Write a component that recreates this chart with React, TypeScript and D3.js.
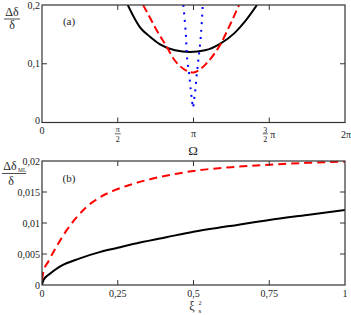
import * as d3 from 'd3'

// panel (a): Δδ/δ vs Ω (Ω stored in units of π)
const omegaSolid = [0.566, 0.647, 0.713, 0.779, 0.878, 0.977, 1.076, 1.175, 1.274, 1.34, 1.419]
const deltaSolid = [0.2, 0.162, 0.146, 0.133, 0.123, 0.12, 0.123, 0.134, 0.153, 0.172, 0.2]
const omegaDashed = [0.667, 0.691, 0.757, 0.823, 0.867, 0.911, 0.955, 1.0, 1.036, 1.08, 1.12, 1.182, 1.226, 1.285, 1.3]
const deltaDashed = [0.2, 0.189, 0.157, 0.129, 0.109, 0.096, 0.088, 0.085, 0.089, 0.099, 0.111, 0.135, 0.158, 0.191, 0.2]
const omegaDotted = [0.933, 0.949, 0.959, 0.972, 0.982, 0.99, 0.997, 1.003, 1.012, 1.021, 1.032, 1.05, 1.061]
const deltaDotted = [0.2, 0.152, 0.106, 0.081, 0.055, 0.038, 0.025, 0.038, 0.055, 0.081, 0.106, 0.152, 0.2]
const yTicksA = [0, 0.1, 0.2]
const yLabelsA = ['0', '0,1', '0,2']

// panel (b): Δδ_ML/δ vs ξ_s²
const xiSolid = [0, 0.005, 0.026, 0.06, 0.125, 0.19, 0.25, 0.3, 0.41, 0.5, 0.62, 0.75, 0.875, 1]
const mlSolid = [0, 0.0008, 0.0018, 0.003, 0.0043, 0.0053, 0.006, 0.0066, 0.0077, 0.0086, 0.0095, 0.0105, 0.0113, 0.0121]
const xiDashed = [0, 0.005, 0.021, 0.048, 0.081, 0.114, 0.147, 0.19, 0.24, 0.3, 0.36, 0.44, 0.5, 0.625, 0.75, 0.875, 1]
const mlDashed = [0.0008, 0.0022, 0.0038, 0.0062, 0.0088, 0.0109, 0.0126, 0.0141, 0.0153, 0.0163, 0.0171, 0.0179, 0.0184, 0.019, 0.0194, 0.0197, 0.0199]
const xTicksB = [0, 0.25, 0.5, 0.75, 1]
const xLabelsB = ['0', '0,25', '0,5', '0,75', '1']
const yTicksB = [0, 0.005, 0.01, 0.015, 0.02]
const yLabelsB = ['0', '0,005', '0,01', '0,015', '0,02']

const FONT = '"Liberation Serif", "DejaVu Serif", serif'
const AXIS = '#333'
const L = 42, R = 345

const App = () => {
  const xA = d3.scaleLinear().domain([0, 2]).range([L, R])
  const yA = d3.scaleLinear().domain([0, 0.2]).range([122.5, 5])
  const xB = d3.scaleLinear().domain([0, 1]).range([L, R])
  const yB = d3.scaleLinear().domain([0, 0.02]).range([285, 161])

  const lineA = d3.line<[number, number]>().x(d => xA(d[0])).y(d => yA(d[1])).curve(d3.curveMonotoneX)
  const lineV = d3.line<[number, number]>().x(d => xA(d[0])).y(d => yA(d[1])).curve(d3.curveCatmullRom)
  const lineB = d3.line<[number, number]>().x(d => xB(d[0])).y(d => yB(d[1])).curve(d3.curveMonotoneX)
  const zip = (a: number[], b: number[]) => a.map((v, i) => [v, b[i]] as [number, number])

  const tickLen = 5

  return (
    <svg width={351} height={315} style={{ position: 'fixed', left: 0, top: 0, background: '#fff' }}
      fontFamily={FONT} fill="#222">
      <defs>
        <clipPath id="clipA"><rect x={L} y={yA(0.2)} width={R - L} height={yA(0) - yA(0.2)} /></clipPath>
        <clipPath id="clipB"><rect x={L} y={yB(0.02)} width={R - L} height={yB(0) - yB(0.02)} /></clipPath>
      </defs>

      {/* ---------- panel (a) ---------- */}
      <g clipPath="url(#clipA)" fill="none">
        <path d={lineA(zip(omegaSolid, deltaSolid)) ?? ''} stroke="#000" strokeWidth={2} />
        <path d={lineA(zip(omegaDashed, deltaDashed)) ?? ''} stroke="#f00" strokeWidth={2} strokeDasharray="8,4" />
        <path d={lineV(zip(omegaDotted, deltaDotted)) ?? ''} stroke="#0000ff" strokeWidth={2} strokeDasharray="2,5.5" />
      </g>
      <rect x={L} y={yA(0.2)} width={R - L} height={yA(0) - yA(0.2)} fill="none" stroke={AXIS} strokeWidth={1.2} />
      {[0.5, 1, 1.5].map(t => (
        <g key={t} stroke={AXIS}>
          <line x1={xA(t)} x2={xA(t)} y1={yA(0)} y2={yA(0) - tickLen} />
          <line x1={xA(t)} x2={xA(t)} y1={yA(0.2)} y2={yA(0.2) + tickLen} />
        </g>
      ))}
      {yTicksA.slice(1, 2).map(t => (
        <g key={t} stroke={AXIS}>
          <line x1={L} x2={L + tickLen} y1={yA(t)} y2={yA(t)} />
          <line x1={R} x2={R - tickLen} y1={yA(t)} y2={yA(t)} />
        </g>
      ))}
      {yTicksA.map((t, i) => (
        <text key={t} x={40} y={i === 0 ? 124 : yA(t) + 3.5} fontSize={10} textAnchor="end">{yLabelsA[i]}</text>
      ))}
      {/* x tick labels in multiples of π */}
      <text x={xA(0)} y={134} fontSize={10} textAnchor="middle">0</text>
      <g fontSize={8} textAnchor="middle">
        <text x={xA(0.5)} y={132}>π</text>
        <line x1={xA(0.5) - 3} x2={xA(0.5) + 3} y1={133.8} y2={133.8} stroke="#222" strokeWidth={0.7} />
        <text x={xA(0.5)} y={141.5}>2</text>
      </g>
      <text x={xA(1)} y={137} fontSize={10} textAnchor="middle">π</text>
      <g fontSize={8} textAnchor="middle">
        <text x={xA(1.5) - 4} y={132.5}>3</text>
        <line x1={xA(1.5) - 6.5} x2={xA(1.5) - 1.5} y1={133.8} y2={133.8} stroke="#222" strokeWidth={0.7} />
        <text x={xA(1.5) - 4} y={141.5}>2</text>
      </g>
      <text x={xA(1.5) + 3.5} y={138} fontSize={10} textAnchor="middle">π</text>
      <text x={xA(2) + 1} y={138} fontSize={10} textAnchor="middle">2π</text>
      <text x={193} y={155} fontSize={13} textAnchor="middle">Ω</text>
      <text x={69} y={25} fontSize={11} textAnchor="middle">(a)</text>
      <g fontSize={12} textAnchor="middle">
        <text x={12} y={16}>Δδ</text>
        <line x1={4} x2={20} y1={19} y2={19} stroke="#222" strokeWidth={0.8} />
        <text x={12} y={29}>δ</text>
      </g>

      {/* ---------- panel (b) ---------- */}
      <g clipPath="url(#clipB)" fill="none">
        <path d={lineB(zip(xiSolid, mlSolid)) ?? ''} stroke="#000" strokeWidth={2} />
        <path d={lineB(zip(xiDashed, mlDashed)) ?? ''} stroke="#f00" strokeWidth={2} strokeDasharray="8,5" />
      </g>
      <rect x={L} y={yB(0.02)} width={R - L} height={yB(0) - yB(0.02)} fill="none" stroke={AXIS} strokeWidth={1.2} />
      {xTicksB.slice(1, -1).map(t => (
        <g key={t} stroke={AXIS}>
          <line x1={xB(t)} x2={xB(t)} y1={yB(0)} y2={yB(0) - tickLen} />
          <line x1={xB(t)} x2={xB(t)} y1={yB(0.02)} y2={yB(0.02) + tickLen} />
        </g>
      ))}
      {yTicksB.slice(1, -1).map(t => (
        <g key={t} stroke={AXIS}>
          <line x1={L} x2={L + tickLen} y1={yB(t)} y2={yB(t)} />
          <line x1={R} x2={R - tickLen} y1={yB(t)} y2={yB(t)} />
        </g>
      ))}
      {yTicksB.map((t, i) => (
        <text key={t} x={40} y={yB(t) + 3.5} fontSize={10} textAnchor="end">{yLabelsB[i]}</text>
      ))}
      {xTicksB.map((t, i) => (
        <text key={t} x={xB(t)} y={296.5} fontSize={10} textAnchor="middle">{xLabelsB[i]}</text>
      ))}
      <text x={69} y={182} fontSize={11} textAnchor="middle">(b)</text>
      <g fontSize={12}>
        <text x={10} y={170} textAnchor="middle">Δδ</text>
        <text x={18} y={172} fontSize={5.5}>ML</text>
        <line x1={2} x2={26} y1={173.5} y2={173.5} stroke="#222" strokeWidth={0.8} />
        <text x={11} y={185} textAnchor="middle">δ</text>
      </g>
      <g>
        <text x={192} y={310} fontSize={12} textAnchor="middle">ξ</text>
        <text x={198.5} y={305} fontSize={6}>2</text>
        <text x={198.5} y={313} fontSize={7}>s</text>
      </g>
    </svg>
  )
}

export default App
